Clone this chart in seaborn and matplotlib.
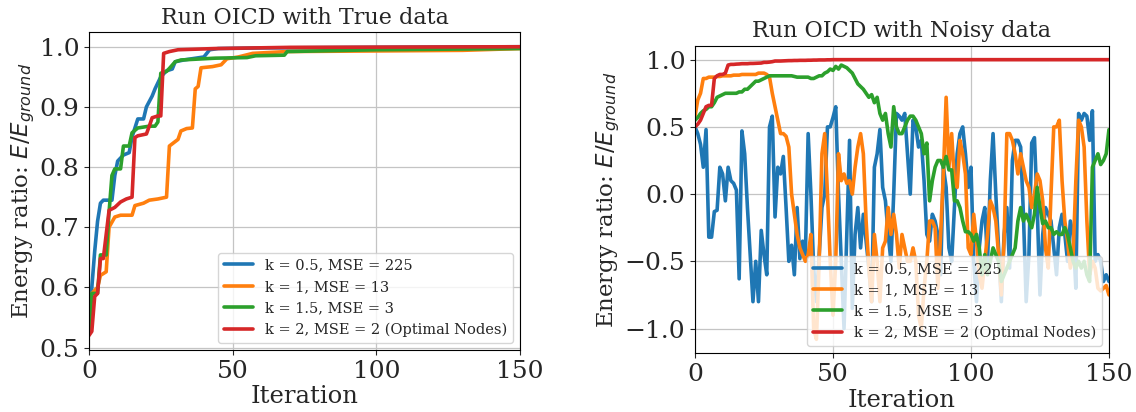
import pandas as pd
import matplotlib
matplotlib.use('Agg')
import matplotlib.pyplot as plt
import seaborn as sns

labels = ['k = 0.5, MSE = 225', 'k = 1, MSE = 13', 'k = 1.5, MSE = 3',
          'k = 2, MSE = 2 (Optimal Nodes)']

# ---- True data (step-like convergence), breakpoints per run
true_x_05 = [0, 1, 2, 3, 4, 5, 8, 9, 10, 12, 14, 15, 17, 19, 20, 22, 23, 25, 27, 29,
             30, 33, 40, 42, 45, 60, 100, 150]
true_y_05 = [0.53, 0.60, 0.66, 0.71, 0.74, 0.745, 0.745, 0.786, 0.81, 0.82, 0.824, 0.85,
             0.88, 0.88, 0.90, 0.918, 0.93, 0.95, 0.96, 0.963, 0.975, 0.978, 0.983, 0.995,
             0.997, 0.998, 0.999, 1.0]
true_x_1 = [0, 1, 3, 4, 6, 7, 9, 11, 15, 16, 19, 21, 24, 27, 28, 31, 32, 34, 36, 37,
            38, 39, 43, 46, 48, 52, 57, 69, 130, 150]
true_y_1 = [0.54, 0.59, 0.60, 0.62, 0.626, 0.70, 0.717, 0.72, 0.72, 0.736, 0.74, 0.745,
            0.747, 0.75, 0.835, 0.846, 0.86, 0.864, 0.865, 0.93, 0.934, 0.965, 0.967,
            0.97, 0.98, 0.983, 0.989, 0.992, 0.994, 0.997]
true_x_15 = [0, 1, 3, 4, 6, 7, 8, 9, 11, 12, 14, 15, 17, 21, 23, 24, 25, 27, 28, 30,
             32, 44, 55, 58, 68, 69, 100, 150]
true_y_15 = [0.53, 0.59, 0.59, 0.654, 0.654, 0.725, 0.786, 0.797, 0.797, 0.835, 0.835,
             0.857, 0.865, 0.868, 0.868, 0.875, 0.956, 0.959, 0.964, 0.975, 0.978, 0.981,
             0.982, 0.985, 0.986, 0.992, 0.995, 0.997]
true_x_2 = [0, 1, 2, 3, 4, 5, 7, 9, 11, 13, 15, 16, 17, 20, 21, 22, 24, 25, 26, 28,
            31, 44, 70, 150]
true_y_2 = [0.52, 0.527, 0.585, 0.59, 0.648, 0.648, 0.728, 0.733, 0.742, 0.747, 0.75,
            0.849, 0.852, 0.855, 0.868, 0.882, 0.885, 0.885, 0.989, 0.992, 0.995, 0.997,
            0.999, 1.0]

# ---- Noisy data, one value per iteration 0..150
noisy_iter = list(range(151))
noisy_05 = [0.5, 0.45, 0.37, 0.2, 0.48, -0.32, -0.32, -0.13, -0.12, 0.2,
            0.15, -0.05, 0.2, 0.1, 0.08, 0.03, -0.63, 0.47, 0.3, -0.1,
            -0.45, -0.8, -0.5, -0.8, -0.27, -0.45, -0.6, 0.5, 0.58, -0.17,
            0.2, 0.15, 0.28, -0.1, -0.5, -0.38, -0.6, -0.1, -0.48, -0.35,
            -0.45, 0.45, 0.0, -0.55, -0.8, -0.45, -0.1, 0.0, 0.5, 0.5,
            0.57, 0.65, 0.0, -0.5, -1.0, -0.3, 0.4, -0.85, -0.3, -0.1,
            -0.4, -0.15, -0.35, -0.55, -0.8, 0.2, 0.3, 0.48, 0.05, -0.05,
            -0.3, -0.5, 0.0, 0.6, 0.58, 0.55, 0.6, 0.3, 0.0, 0.55,
            0.5, 0.35, 0.4, 0.1, -0.3, -0.35, -0.15, -0.2, -0.3, -0.6,
            0.2, 0.05, -0.4, -0.5, -0.1, 0.3, 0.45, 0.5, 0.3, 0.05,
            0.2, -0.5, -0.8, -0.4, -0.2, -0.1, -0.5, 0.1, 0.45, 0.0,
            -0.4, -0.8, -0.3, -0.1, -0.55, 0.25, 0.4, 0.4, 0.35, -0.15,
            -0.8, -0.45, 0.38, 0.42, -0.1, -0.75, -0.3, -0.1, -0.15, -0.2,
            -0.4, -0.6, -0.25, -0.15, -0.3, -0.5, -0.2, -0.3, -0.7, 0.6,
            0.55, 0.6, 0.58, 0.4, 0.62, -0.5, -0.45, -0.5, -0.65, -0.6,
            -0.65]
noisy_1 = [0.58, 0.7, 0.75, 0.86, 0.86, 0.87, 0.87, 0.87, 0.875, 0.875,
           0.88, 0.88, 0.88, 0.88, 0.885, 0.885, 0.885, 0.89, 0.89, 0.89,
           0.89, 0.89, 0.89, 0.9, 0.9, 0.9, 0.89, 0.87, 0.75, 0.65,
           0.55, 0.45, 0.45, 0.43, 0.35, 0.0, -0.15, -0.3, -0.4, -0.45,
           -0.5, -0.45, -0.3, -1.0, -1.08, -0.5, 0.3, 0.45, 0.0, -0.5,
           -0.9, -0.5, 0.3, 0.1, 0.15, 0.08, 0.1, 0.0, 0.2, 0.35,
           0.45, 0.3, -0.2, -0.55, -0.8, -0.3, -0.5, -0.8, -0.4, -0.35,
           -0.1, -0.3, -0.15, -0.3, -0.55, -0.3, -0.4, -0.5, -0.5, -0.4,
           -0.5, -0.9, -1.0, -0.7, -0.5, -0.2, -0.2, -0.25, -0.7, -0.3,
           0.15, 0.72, 0.2, 0.45, 0.1, 0.05, 0.4, 0.3, 0.15, -0.4,
           -0.45, -0.15, -0.35, -0.6, -0.7, -0.5, -0.3, -0.05, -0.1, -0.2,
           -0.45, -0.75, -0.35, 0.45, 0.45, 0.4, 0.3, 0.15, 0.3, 0.2,
           0.1, 0.05, -0.1, 0.0, 0.15, 0.1, -0.05, -0.4, -0.55, 0.0,
           0.5, 0.5, 0.55, 0.1, -0.2, -0.35, -0.55, -0.45, 0.1, 0.55,
           0.5, 0.35, -0.2, -0.6, -0.5, -0.55, -0.7, -0.72, -0.7, -0.68,
           -0.75]
noisy_15 = [0.55, 0.57, 0.6, 0.62, 0.63, 0.65, 0.65, 0.68, 0.72, 0.73,
            0.74, 0.75, 0.75, 0.75, 0.75, 0.75, 0.76, 0.76, 0.78, 0.78,
            0.8, 0.82, 0.84, 0.84, 0.85, 0.86, 0.87, 0.88, 0.88, 0.88,
            0.88, 0.88, 0.88, 0.88, 0.88, 0.88, 0.875, 0.87, 0.87, 0.87,
            0.87, 0.87, 0.86, 0.86, 0.87, 0.88, 0.88, 0.9, 0.91, 0.93,
            0.92, 0.95, 0.93, 0.96, 0.95, 0.94, 0.92, 0.9, 0.86, 0.82,
            0.8, 0.78, 0.75, 0.72, 0.74, 0.68, 0.72, 0.6, 0.55, 0.6,
            0.45, 0.35, 0.65, 0.5, 0.45, 0.45, 0.5, 0.55, 0.58, 0.58,
            0.55, 0.5, 0.45, 0.3, 0.38, -0.05, 0.1, 0.2, 0.25, 0.25,
            0.2, 0.28, 0.18, 0.18, -0.05, -0.05, -0.1, -0.2, -0.28, -0.28,
            -0.3, -0.35, -0.3, -0.4, -0.6, -0.45, -0.6, -0.5, -0.4, -0.45,
            -0.5, -0.65, -0.6, -0.55, -0.5, -0.45, -0.4, -0.2, -0.1, -0.2,
            -0.15, -0.2, -0.25, -0.15, 0.05, -0.1, -0.22, -0.2, -0.25, -0.25,
            -0.3, -0.28, -0.3, -0.3, -0.25, -0.3, -0.4, -0.5, -0.55, -0.5,
            -0.55, -0.5, -0.6, -0.65, 0.2, 0.25, 0.3, 0.22, 0.25, 0.3,
            0.48]
noisy_2 = [0.5, 0.52, 0.55, 0.6, 0.65, 0.66, 0.66, 0.86, 0.88, 0.89,
           0.89, 0.9, 0.96, 0.965, 0.965, 0.967, 0.968, 0.97, 0.97, 0.97,
           0.972, 0.972, 0.973, 0.974, 0.975, 0.98, 0.98, 0.982, 0.985, 0.99,
           0.99, 0.99, 0.991, 0.992, 0.993, 0.993, 0.994, 0.994, 0.995, 0.995,
           0.995, 0.996, 0.996, 0.997, 0.997, 0.998, 0.998, 0.998, 0.999, 0.999] + [1.0] * 101

true_df = pd.concat([
    pd.DataFrame({'Iteration': xs, 'ratio': ys, 'run': lab})
    for xs, ys, lab in zip([true_x_05, true_x_1, true_x_15, true_x_2],
                           [true_y_05, true_y_1, true_y_15, true_y_2], labels)
])
noisy_df = pd.concat([
    pd.DataFrame({'Iteration': noisy_iter, 'ratio': ys, 'run': lab})
    for ys, lab in zip([noisy_05, noisy_1, noisy_15, noisy_2], labels)
])

sns.set_style('ticks')
plt.rcParams['font.family'] = ['DejaVu Serif']
plt.rcParams['mathtext.fontset'] = 'dejavusans'

palette = dict(zip(labels, sns.color_palette('tab10', 4)))

fig = plt.figure(figsize=(11.36, 4.12), dpi=100)
ax1 = fig.add_axes([0.0783, 0.1505, 0.3794, 0.7711])
ax2 = fig.add_axes([0.6118, 0.1425, 0.3644, 0.7466])

for ax, df, title in [(ax1, true_df, 'Run OICD with True data'),
                      (ax2, noisy_df, 'Run OICD with Noisy data')]:
    sns.lineplot(data=df, x='Iteration', y='ratio', hue='run', palette=palette,
                 estimator=None, sort=False, lw=2.6, ax=ax)
    ax.set_xlim(0, 150)
    ax.set_xticks([0, 50, 100, 150])
    ax.grid(True, color='#c4c4c4', lw=0.9)
    ax.set_title(title, fontsize=16)
    ax.set_xlabel('Iteration', fontsize=17.5, labelpad=2)
    ax.set_ylabel('Energy ratio: $E/E_{ground}$', fontsize=16.5, labelpad=2)
    ax.tick_params(labelsize=18)
    for s in ax.spines.values():
        s.set_color('black')
        s.set_linewidth(0.8)
    ax.legend(loc='lower right', fontsize=10.5, title=None)

fig.savefig('out.png', dpi=100)
